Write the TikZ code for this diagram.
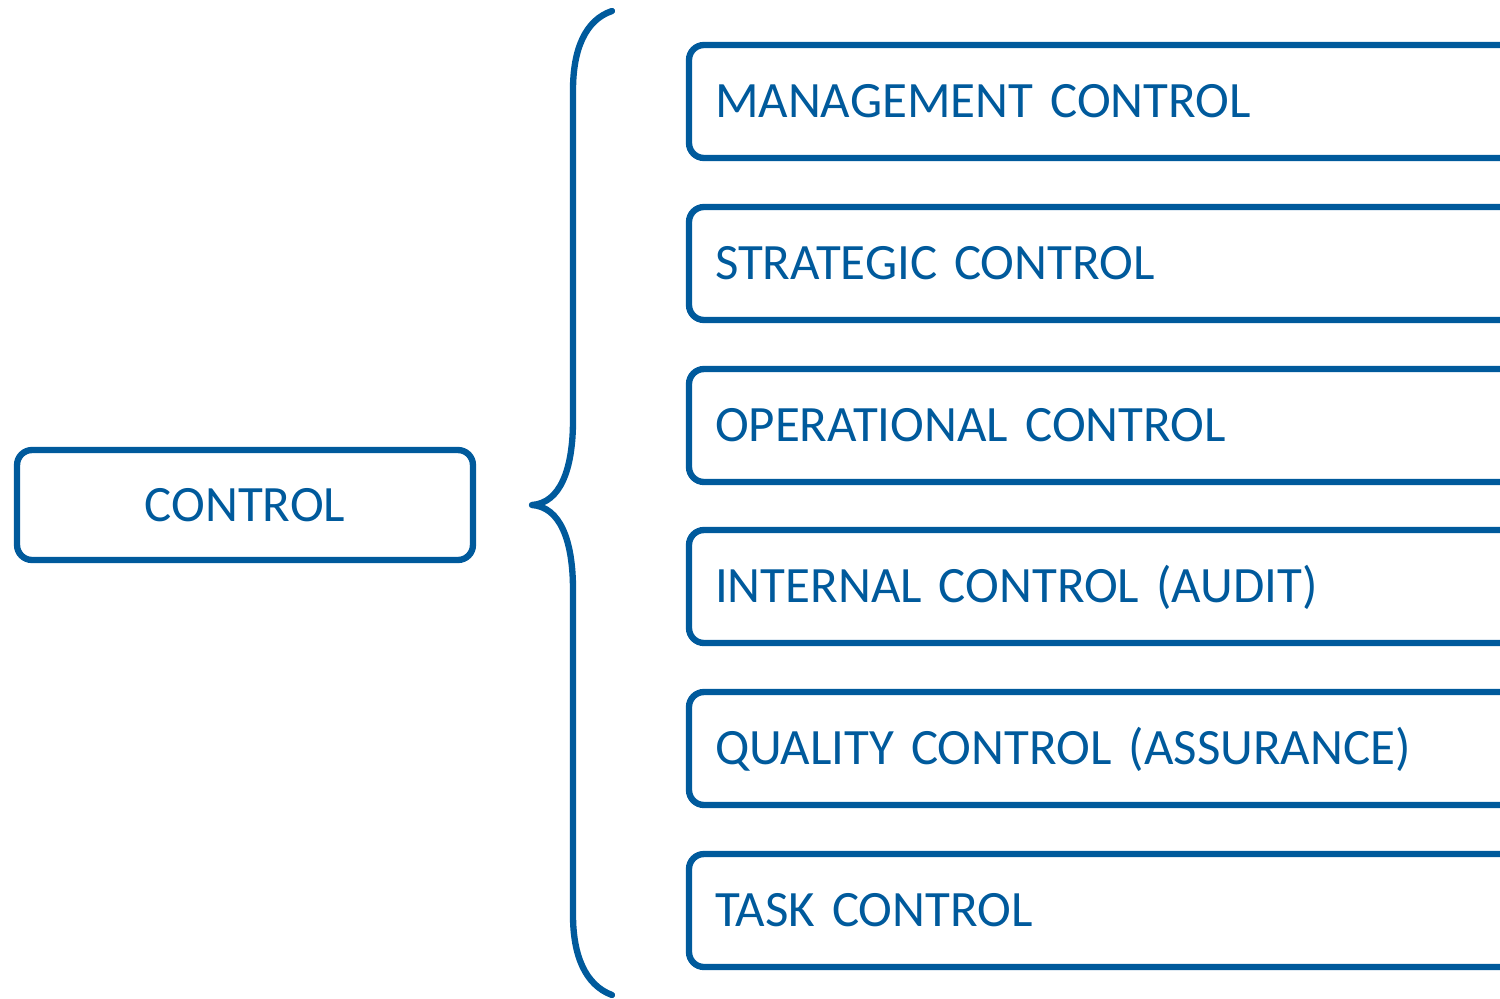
\documentclass[tikz,border=0pt]{standalone}
\usepackage{fontspec}
\setmainfont{Carlito}[WordSpace=0.8]
\definecolor{ctrlblue}{RGB}{0,90,156}

\tikzset{
    ctrlbox/.style={draw=ctrlblue, line width=3.6pt, rounded corners=0.3cm,
        outer sep=0pt, text=ctrlblue, font=\fontsize{29}{33}\selectfont,
        text height=18.4pt, text depth=0pt},
    kindbox/.style={ctrlbox, anchor=west, inner xsep=0.52cm,
        text width=19cm, align=left, minimum height=2.26cm}
}

\begin{document}
\begin{tikzpicture}[x=0.02cm, y=-0.02cm]
    \useasboundingbox (0,0) rectangle (1500,998);
    \clip (0,0) rectangle (1500,998);

    % Define the main box
    \node[ctrlbox, minimum width=9.12cm, minimum height=2.2cm] (control) at (245,505) {CONTROL};

    % Define the kinds of control
    \node[kindbox] (mgmt) at (689,101.5) {MANAGEMENT CONTROL};
    \node[kindbox] (strat) at (689,263.5) {STRATEGIC CONTROL};
    \node[kindbox] (oper) at (689,425.5) {OPERATIONAL CONTROL};
    \node[kindbox] (intern) at (689,586.5) {INTERNAL CONTROL (AUDIT)};
    \node[kindbox] (quality) at (689,748.5) {QUALITY CONTROL (ASSURANCE)};
    \node[kindbox] (task) at (689,910.5) {TASK CONTROL};

    % Draw the brace
    \coordinate (tip) at (532,505);
    \coordinate (top) at (612,11);
    \coordinate (bot) at (612,995);
    \draw[ctrlblue, line width=3.6pt, line cap=round, line join=round]
        (top) .. controls (585,20) and (573,50) .. (573,90)
        -- (573,420) .. controls (573,470) and (560,503) .. (tip)
        .. controls (560,507) and (573,540) .. (573,590)
        -- (573,915) .. controls (573,955) and (585,985) .. (bot);
\end{tikzpicture}
\end{document}
